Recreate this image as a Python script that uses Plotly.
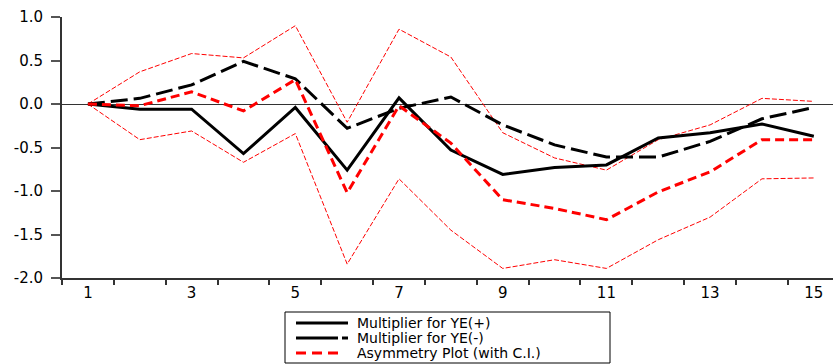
import plotly.graph_objects as go

periods = list(range(1, 16))
ye_pos = [0.0, -0.06, -0.06, -0.57, -0.04, -0.76, 0.07, -0.53, -0.81, -0.73, -0.70, -0.39, -0.33, -0.23, -0.37]
ye_neg = [0.0, 0.065, 0.22, 0.49, 0.29, -0.28, -0.05, 0.08, -0.24, -0.47, -0.61, -0.61, -0.43, -0.17, -0.04]
asym = [0.0, -0.02, 0.14, -0.08, 0.28, -1.02, -0.02, -0.45, -1.10, -1.20, -1.33, -1.01, -0.78, -0.41, -0.41]
ci_upper = [0.0, 0.37, 0.58, 0.53, 0.90, -0.21, 0.86, 0.54, -0.33, -0.62, -0.76, -0.41, -0.24, 0.065, 0.03]
ci_lower = [0.0, -0.41, -0.31, -0.67, -0.34, -1.84, -0.86, -1.45, -1.89, -1.79, -1.89, -1.56, -1.30, -0.86, -0.85]

x_tick_labels = [1, 3, 5, 7, 9, 11, 13, 15]
y_tick_vals = [1.0, 0.5, 0.0, -0.5, -1.0, -1.5, -2.0]
legend_names = ["Multiplier for YE(+)", "Multiplier for YE(-)", "Asymmetry Plot (with C.I.)"]

FONT = "DejaVu Sans"
W, H = 833, 364
ML, MR, MT, MB = 62, 0, 17, 86
PW, PH = W - ML - MR, H - MT - MB

STYLE_POS = dict(color="black", width=3)
STYLE_NEG = dict(color="black", width=3, dash="17px,6px")
STYLE_ASYM = dict(color="#ff0000", width=3, dash="9px,5px")
STYLE_CI = dict(color="#ff0000", width=1, dash="5px,2px")

fig = go.Figure()
fig.add_trace(go.Scatter(x=periods, y=ci_upper, mode="lines", showlegend=False, name="Upper C.I.", line=STYLE_CI))
fig.add_trace(go.Scatter(x=periods, y=ci_lower, mode="lines", showlegend=False, name="Lower C.I.", line=STYLE_CI))
fig.add_trace(go.Scatter(x=periods, y=ye_pos, mode="lines", name=legend_names[0], showlegend=False, line=STYLE_POS))
fig.add_trace(go.Scatter(x=periods, y=ye_neg, mode="lines", name=legend_names[1], showlegend=False, line=STYLE_NEG))
fig.add_trace(go.Scatter(x=periods, y=asym, mode="lines", name=legend_names[2], showlegend=False, line=STYLE_ASYM))


def px_x(p):
    return (p - ML) / PW


def px_y(p):
    return (H - MB - p) / PH


# legend box drawn beneath the plot (EViews style)
shapes = [dict(type="rect", xref="paper", yref="paper",
               x0=px_x(285), x1=px_x(610), y0=px_y(312), y1=px_y(363),
               line=dict(color="black", width=1), fillcolor="white")]
annotations = []
rows = [323, 338, 353]
styles = [STYLE_POS, STYLE_NEG, STYLE_ASYM]
for name, yy, st in zip(legend_names, rows, styles):
    if st is STYLE_NEG:
        shapes.append(dict(type="line", xref="paper", yref="paper",
                           x0=px_x(296), x1=px_x(338), y0=px_y(yy), y1=px_y(yy),
                           line=dict(color="black", width=3)))
        shapes.append(dict(type="line", xref="paper", yref="paper",
                           x0=px_x(342), x1=px_x(348), y0=px_y(yy), y1=px_y(yy),
                           line=dict(color="black", width=3)))
    elif st is STYLE_ASYM:
        shapes.append(dict(type="line", xref="paper", yref="paper",
                           x0=px_x(296), x1=px_x(340), y0=px_y(yy), y1=px_y(yy),
                           line=dict(color="#ff0000", width=3, dash="10px,6px")))
    else:
        shapes.append(dict(type="line", xref="paper", yref="paper",
                           x0=px_x(296), x1=px_x(348), y0=px_y(yy), y1=px_y(yy),
                           line=dict(color="black", width=3)))
    annotations.append(dict(text=name, xref="paper", yref="paper", x=px_x(355), y=px_y(yy),
                            xanchor="left", yanchor="middle", showarrow=False,
                            font=dict(family=FONT, size=14, color="black")))

fig.update_layout(
    width=W, height=H,
    margin=dict(l=ML, r=MR, t=MT, b=MB, autoexpand=False),
    paper_bgcolor="white", plot_bgcolor="white",
    font=dict(family=FONT, size=15, color="black"),
    showlegend=False,
    shapes=shapes, annotations=annotations,
    xaxis=dict(range=[0.5, 15.37], tickmode="array", tickvals=x_tick_labels,
               ticktext=[str(v) for v in x_tick_labels], ticks="",
               showgrid=False, zeroline=False, showline=True, linecolor="#333",
               linewidth=2, automargin=False,
               minor=dict(tickmode="array", tickvals=[i + 0.5 for i in range(0, 16)],
                          ticks="outside", ticklen=5, tickcolor="#333", tickwidth=1.5,
                          showgrid=False),
               tickfont=dict(family=FONT, size=15)),
    yaxis=dict(range=[-2.0, 1.0], tickmode="array", tickvals=y_tick_vals,
               ticktext=["%.1f" % v for v in y_tick_vals],
               ticks="outside", ticklen=9, tickcolor="#555", tickwidth=2,
               ticklabelstandoff=5,
               showgrid=False, zeroline=True, zerolinecolor="#333", zerolinewidth=1,
               showline=True, linecolor="#333", linewidth=2, automargin=False,
               tickfont=dict(family=FONT, size=15)),
)

fig.write_html("out.html", config={"displayModeBar": False},
               post_script="document.body.style.margin='0px';")
